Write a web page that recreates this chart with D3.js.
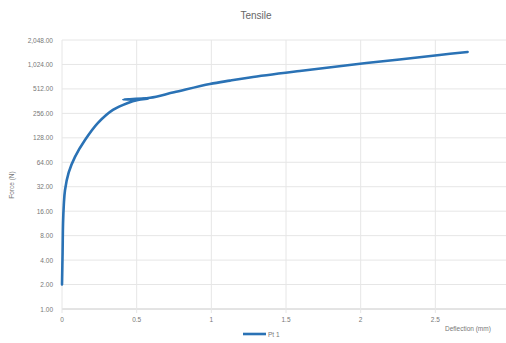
<!DOCTYPE html>
<html>
<head>
<meta charset="utf-8">
<script src="https://cdn.jsdelivr.net/npm/d3@7"></script>
<style>
  body { margin: 0; background: #fff; }
  text { font-family: "Liberation Sans", Arial, sans-serif; fill: #777; }
</style>
</head>
<body>
<script>
var WIDTH = 506;
var HEIGHT = 343;

// deflection (mm) / force (N)
var deflection = [0, 0.004, 0.007, 0.012, 0.02, 0.045, 0.087, 0.154, 0.241, 0.341, 0.441, 0.508, 0.58, 0.41, 0.50, 0.59, 0.75, 0.99, 1.124, 1.258, 1.592, 1.926, 2.26, 2.528, 2.716];
var force = [2, 5, 11.4, 19, 29, 48, 74.5, 120, 195, 282, 344, 374, 392, 380, 384, 398, 465, 588, 648, 708, 850, 1010, 1179, 1340, 1459];

var yTicks = [1, 2, 4, 8, 16, 32, 64, 128, 256, 512, 1024, 2048];
var xTicks = [0, 0.5, 1, 1.5, 2, 2.5];
var seriesName = "Pt 1";

var svg = d3.select("body").append("svg")
  .attr("width", WIDTH)
  .attr("height", HEIGHT);

var x = d3.scaleLinear().domain([0, 3]).range([62, 510]);
var y = d3.scaleLog().base(2).domain([1, 2048]).range([309, 40]);

// horizontal grid
svg.selectAll("line.hgrid")
   .data(yTicks)
   .enter()
   .append("line")
   .attr("x1", 62).attr("x2", WIDTH)
   .attr("y1", d => y(d)).attr("y2", d => y(d))
   .style("stroke", d => d === 1 ? "#c8c8c8" : "#e6e6e6")
   .style("stroke-width", 1);

// vertical grid
svg.selectAll("line.vgrid")
   .data(xTicks)
   .enter()
   .append("line")
   .attr("x1", d => x(d)).attr("x2", d => x(d))
   .attr("y1", 40).attr("y2", 313)
   .style("stroke", "#e6e6e6")
   .style("stroke-width", 1);

// y tick labels
var fmt = d3.format(",.2f");
svg.selectAll("text.ylab")
   .data(yTicks)
   .enter()
   .append("text")
   .attr("x", 53)
   .attr("y", d => y(d) + 2.5)
   .attr("text-anchor", "end")
   .style("font-size", "6.5px")
   .text(d => fmt(d));

// x tick labels
svg.selectAll("text.xlab")
   .data(xTicks)
   .enter()
   .append("text")
   .attr("x", d => x(d))
   .attr("y", 322)
   .attr("text-anchor", "middle")
   .style("font-size", "6.5px")
   .text(d => d);

// title
svg.append("text")
   .attr("x", 256).attr("y", 19)
   .attr("text-anchor", "middle")
   .style("font-size", "10px")
   .style("fill", "#666")
   .text("Tensile");

// axis titles
svg.append("text")
   .attr("transform", "translate(14,185) rotate(-90)")
   .attr("text-anchor", "middle")
   .style("font-size", "6.5px")
   .text("Force (N)");

svg.append("text")
   .attr("x", 445).attr("y", 331)
   .style("font-size", "6.5px")
   .text("Deflection (mm)");

// curve
var pts = deflection.map((d, i) => [d, force[i]]);
var line = d3.line()
  .x(d => x(d[0]))
  .y(d => y(d[1]))
  .curve(d3.curveCatmullRom.alpha(0.5));

svg.append("path")
   .datum(pts)
   .attr("d", line)
   .style("fill", "none")
   .style("stroke", "#2a72b5")
   .style("stroke-width", 2.6)
   .style("stroke-linejoin", "round")
   .style("stroke-linecap", "round");

// legend
svg.append("line")
   .attr("x1", 243).attr("x2", 266)
   .attr("y1", 334).attr("y2", 334)
   .style("stroke", "#2a72b5")
   .style("stroke-width", 2.6);

svg.append("text")
   .attr("x", 268).attr("y", 336.5)
   .style("font-size", "6.5px")
   .text(seriesName);
</script>
</body>
</html>
